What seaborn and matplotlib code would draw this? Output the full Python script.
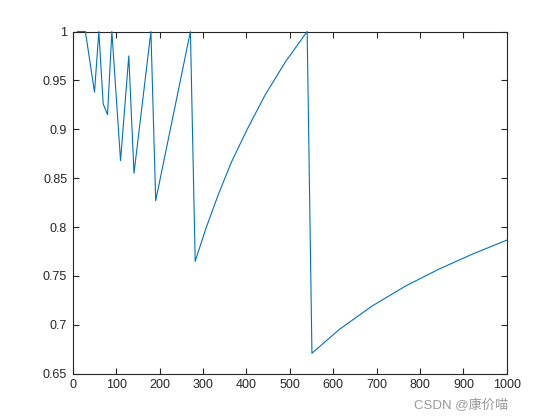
import matplotlib
matplotlib.use("Agg")
import matplotlib.pyplot as plt
import seaborn as sns
import pandas as pd

# values
x_vals = [10, 29, 50, 60, 70, 80, 90, 110, 129, 141, 180, 191, 271,
          282, 307, 335, 366, 403, 443, 490, 540,
          551, 613, 690, 767, 844, 921, 1000]
y_vals = [1.0, 1.0, 0.938, 1.0, 0.926, 0.915, 1.0, 0.868, 0.975, 0.855, 1.0, 0.827, 1.0,
          0.765, 0.799, 0.833, 0.867, 0.901, 0.935, 0.969, 1.0,
          0.671, 0.695, 0.7194, 0.7398, 0.7571, 0.7724, 0.7867]
x_ticks = list(range(0, 1001, 100))
y_ticks = [0.65, 0.7, 0.75, 0.8, 0.85, 0.9, 0.95, 1.0]
y_tick_labels = ["0.65", "0.7", "0.75", "0.8", "0.85", "0.9", "0.95", "1"]
watermark = "CSDN @康价喵"

sns.set_style("white")
plt.rcParams['font.family'] = ['Liberation Sans', 'Noto Sans CJK SC', 'DejaVu Sans']

df = pd.DataFrame({"x": x_vals, "y": y_vals})

fig = plt.figure(figsize=(5.6, 4.2), dpi=100)
ax = fig.add_axes([0.13, 0.11, 0.775, 0.815])
sns.lineplot(data=df, x="x", y="y", ax=ax, estimator=None, sort=False,
             color="#0072BD", linewidth=0.8)
for ln in ax.lines:
    ln.set_zorder(5)
    ln.set_clip_on(False)

ax.set_xlim(0, 1000)
ax.set_ylim(0.65, 1.0)
ax.set_xticks(x_ticks)
ax.set_xticklabels([str(t) for t in x_ticks])
ax.set_yticks(y_ticks)
ax.set_yticklabels(y_tick_labels)
ax.set_xlabel("")
ax.set_ylabel("")
for s in ax.spines.values():
    s.set_visible(True)
    s.set_color("#262626")
    s.set_linewidth(0.8)
    s.set_zorder(2)
ax.tick_params(direction="in", length=4, width=0.8, color="#262626",
               labelcolor="#262626", labelsize=9, top=True, right=True,
               bottom=True, left=True, pad=4)

fig.text(0.907, 0.018, watermark, ha="right", va="bottom", fontsize=9.5,
         color="#9a9a9a", family=['Liberation Sans', 'Noto Sans CJK SC'])

fig.savefig("out.png", dpi=100, facecolor="white")
